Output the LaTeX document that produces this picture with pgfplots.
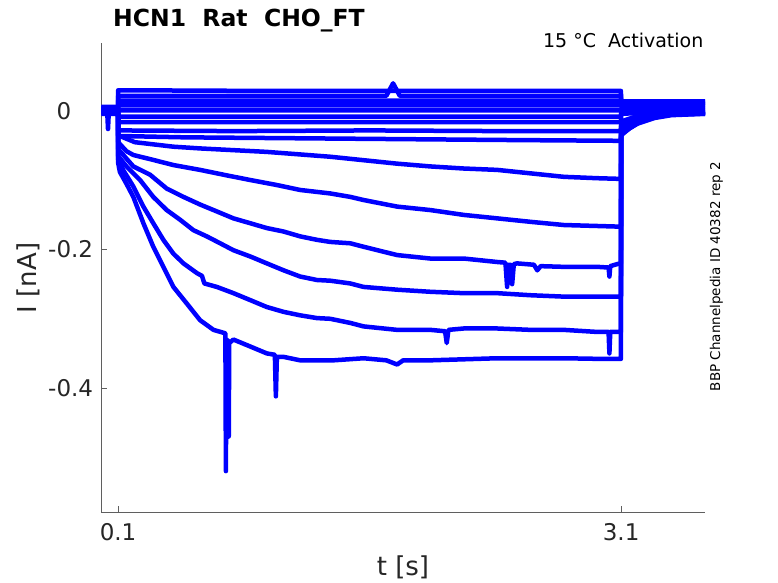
\documentclass[border=0pt]{standalone}
\usepackage{pgfplots}
\pgfplotsset{compat=1.18}
\usepackage{fontspec}
\setmainfont{DejaVu Sans}
\definecolor{axgray}{RGB}{95,95,95}
\definecolor{txtgray}{RGB}{38,38,38}
\newcommand{\tickfont}{\fontsize{23bp}{27bp}\selectfont}
\newcommand{\labfont}{\fontsize{26bp}{30bp}\selectfont}
\begin{document}
\begin{tikzpicture}
\path[use as bounding box] (-101.3bp,-71bp) rectangle (676.7bp,512bp);
\begin{axis}[
  scale only axis,
  width=603.7bp, height=468.7bp,
  xmin=0, xmax=3.6, ymin=-0.579, ymax=0.0978,
  axis x line*=bottom, axis y line*=left,
  axis line style={color=axgray, line width=1bp},
  xtick={0.1,3.1}, xticklabels={0.1,3.1},
  ytick={-0.4,-0.2,0}, yticklabels={-0.4,-0.2,{0\phantom{.0}}},
  tick align=inside, major tick length=6bp,
  tick style={color=axgray, line width=0.8bp},
  xticklabel style={font=\tickfont, text=txtgray, anchor=north, inner sep=0pt, yshift=-11bp},
  yticklabel style={font=\tickfont, text=txtgray, anchor=east, inner sep=0pt, xshift=-8bp},
  every axis plot post/.append style={color=blue, solid, line width=4.5bp, mark=none, line join=round},
]
% deep trace 1 (-0.357)
\addplot coordinates {(0,0.002)(0.035,0.001)(0.04,-0.026)(0.045,0.0)(0.0995,0.001)
(0.1005,-0.075)(0.111,-0.088)(0.15,-0.105)(0.191,-0.124)(0.251,-0.162)(0.31,-0.196)(0.37,-0.225)(0.43,-0.254)(0.51,-0.278)(0.589,-0.302)(0.669,-0.316)(0.740,-0.321)
(0.743,-0.52)(0.746,-0.33)(0.757,-0.332)(0.760,-0.47)(0.763,-0.335)
(0.788,-0.330)(0.888,-0.340)(0.987,-0.350)(1.035,-0.352)(1.041,-0.412)(1.047,-0.355)(1.087,-0.355)(1.186,-0.360)(1.384,-0.360)(1.564,-0.357)(1.70,-0.360)(1.764,-0.366)(1.80,-0.360)(1.962,-0.360)(2.361,-0.357)(2.758,-0.357)(3.0,-0.358)(3.0985,-0.358)
(3.1005,-0.035)(3.15,-0.025)(3.2,-0.018)(3.3,-0.010)(3.4,-0.006)(3.6,-0.004)};
% deep trace 2 (-0.32)
\addplot coordinates {(0,-0.002)(0.0995,-0.001)
(0.1005,-0.07)(0.13,-0.085)(0.191,-0.109)(0.251,-0.138)(0.31,-0.162)(0.37,-0.186)(0.43,-0.206)(0.49,-0.220)(0.57,-0.234)(0.60,-0.238)(0.615,-0.249)(0.689,-0.254)(0.788,-0.263)(0.888,-0.273)(0.987,-0.283)(1.087,-0.290)(1.186,-0.295)(1.286,-0.299)(1.365,-0.300)(1.485,-0.306)(1.564,-0.311)(1.764,-0.316)(1.962,-0.316)(2.05,-0.318)(2.06,-0.335)(2.07,-0.316)(2.161,-0.314)(2.361,-0.314)(2.56,-0.316)(2.758,-0.316)(2.958,-0.319)(3.025,-0.319)(3.03,-0.350)(3.035,-0.319)(3.0985,-0.319)
(3.1005,-0.033)(3.2,-0.017)(3.3,-0.009)(3.4,-0.005)(3.6,-0.003)};
% deep trace 3 (-0.268)
\addplot coordinates {(0,0.003)(0.0995,0.002)
(0.1005,-0.065)(0.15,-0.08)(0.231,-0.0996)(0.31,-0.124)(0.39,-0.143)(0.47,-0.157)(0.549,-0.172)(0.629,-0.181)(0.709,-0.191)(0.788,-0.201)(0.888,-0.210)(0.987,-0.220)(1.087,-0.230)(1.186,-0.239)(1.286,-0.244)(1.365,-0.245)(1.485,-0.249)(1.564,-0.254)(1.764,-0.258)(1.962,-0.261)(2.161,-0.263)(2.361,-0.263)(2.56,-0.266)(2.758,-0.268)(3.0985,-0.268)
(3.1005,-0.03)(3.2,-0.016)(3.3,-0.008)(3.4,-0.004)(3.6,-0.002)};
% deep trace 4 (-0.222)
\addplot coordinates {(0,-0.001)(0.0995,0)
(0.1005,-0.055)(0.191,-0.080)(0.291,-0.092)(0.39,-0.112)(0.49,-0.124)(0.589,-0.135)(0.689,-0.145)(0.788,-0.155)(0.888,-0.162)(0.987,-0.169)(1.087,-0.174)(1.186,-0.181)(1.286,-0.186)(1.365,-0.189)(1.485,-0.191)(1.564,-0.196)(1.764,-0.208)(1.962,-0.213)(2.161,-0.213)(2.361,-0.218)(2.41,-0.219)(2.42,-0.254)(2.43,-0.222)(2.44,-0.222)(2.45,-0.250)(2.46,-0.221)(2.48,-0.220)(2.58,-0.222)(2.60,-0.230)(2.62,-0.224)(2.758,-0.225)(2.958,-0.225)(3.025,-0.226)(3.03,-0.239)(3.035,-0.224)(3.077,-0.221)(3.0985,-0.220)
(3.1005,-0.028)(3.2,-0.015)(3.3,-0.008)(3.4,-0.004)(3.6,-0.002)};
% trace B (-0.167)
\addplot coordinates {(0,0.001)(0.0995,0.001)
(0.1005,-0.045)(0.15,-0.058)(0.191,-0.0635)(0.30,-0.070)(0.43,-0.078)(0.589,-0.085)(0.75,-0.093)(0.888,-0.0996)(1.05,-0.107)(1.186,-0.114)(1.365,-0.119)(1.485,-0.124)(1.564,-0.1285)(1.764,-0.138)(1.962,-0.143)(2.161,-0.150)(2.361,-0.155)(2.56,-0.160)(2.758,-0.1646)(3.0985,-0.167)
(3.1005,-0.025)(3.2,-0.013)(3.3,-0.006)(3.4,-0.003)(3.6,-0.001)};
% trace A (-0.097)
\addplot coordinates {(0,0.002)(0.0995,0.002)
(0.1005,-0.035)(0.2,-0.045)(0.43,-0.0515)(0.589,-0.054)(0.987,-0.059)(1.365,-0.066)(1.564,-0.071)(1.764,-0.076)(1.962,-0.080)(2.161,-0.083)(2.361,-0.085)(2.56,-0.090)(2.758,-0.095)(2.958,-0.097)(3.0985,-0.098)
(3.1005,-0.02)(3.2,-0.01)(3.3,-0.004)(3.4,-0.001)(3.6,0.0)};
% near-zero traces
\addplot coordinates {(0,-0.004)(0.0995,-0.004)(0.1005,-0.036)(0.5,-0.038)(1.0,-0.039)(1.5,-0.040)(2.0,-0.041)(2.5,-0.042)(3.0985,-0.043)(3.1005,-0.022)(3.2,-0.012)(3.3,-0.007)(3.4,-0.005)(3.6,-0.004)};
\addplot coordinates {(0,0.004)(0.0995,0.004)(0.1005,-0.028)(0.8,-0.029)(1.6,-0.028)(2.4,-0.029)(3.0985,-0.029)(3.1005,-0.015)(3.2,-0.007)(3.3,-0.003)(3.6,-0.002)};
\addplot coordinates {(0,-0.003)(0.0995,-0.003)(0.1005,-0.016)(1.0,-0.016)(2.0,-0.016)(3.0985,-0.016)(3.1005,-0.004)(3.3,-0.002)(3.6,-0.002)};
\addplot coordinates {(0,0.005)(0.0995,0.005)(0.1005,-0.008)(1.0,-0.008)(2.0,-0.008)(3.0985,-0.008)(3.1005,0.001)(3.6,0.001)};
\addplot coordinates {(0,0.0)(0.0995,0.0)(0.1005,0.001)(1.0,0.001)(2.0,0.001)(3.0985,0.001)(3.1005,0.004)(3.6,0.004)};
\addplot coordinates {(0,0.006)(0.0995,0.006)(0.1005,0.008)(1.0,0.008)(2.0,0.008)(3.0985,0.008)(3.1005,0.007)(3.6,0.007)};
\addplot coordinates {(0,-0.002)(0.0995,-0.002)(0.1005,0.015)(1.0,0.015)(2.0,0.015)(3.0985,0.015)(3.1005,0.010)(3.6,0.010)};
\addplot coordinates {(0,0.003)(0.0995,0.003)(0.1005,0.022)(1.0,0.022)(1.70,0.022)(1.74,0.040)(1.78,0.022)(3.0985,0.022)(3.1005,0.012)(3.6,0.012)};
\addplot coordinates {(0,0.001)(0.0995,0.001)(0.1005,0.030)(1.0,0.029)(2.0,0.029)(3.0985,0.029)(3.1005,0.014)(3.6,0.014)};
\end{axis}
\node[anchor=base west, inner sep=0pt, font=\fontsize{23.5bp}{28bp}\selectfont\bfseries] at (11.7bp,485.3bp) {HCN1\ \ Rat\ \ CHO\_FT};
\node[anchor=base east, inner sep=0pt, font=\fontsize{19bp}{23bp}\selectfont] at (602.2bp,464.3bp) {15 °C\ \ Activation};
\node[anchor=base, inner sep=0pt, rotate=90, font=\fontsize{13.5bp}{16bp}\selectfont] at (618.7bp,235.5bp) {BBP Channelpedia ID 40382 rep 2};
\node[anchor=base, inner sep=0pt, text=txtgray, font=\labfont] at (301.7bp,-63bp) {t [s]};
\node[anchor=base, inner sep=0pt, rotate=90, text=txtgray, font=\labfont] at (-64.3bp,234bp) {I [nA]};
\end{tikzpicture}
\end{document}
